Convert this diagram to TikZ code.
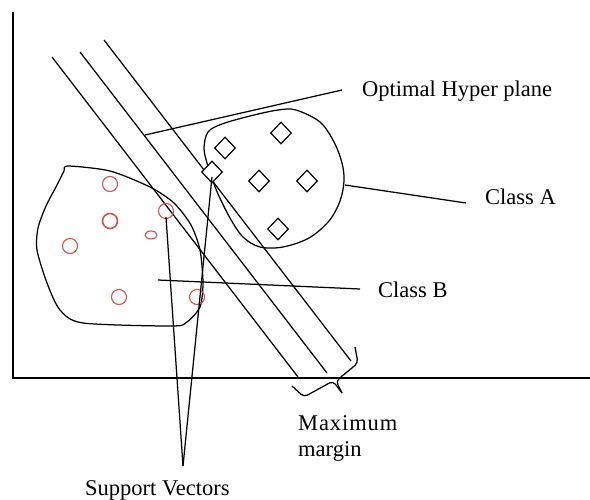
\documentclass[tikz,border=0pt]{standalone}
\usepackage{fontspec}
\setmainfont{Liberation Serif}
\usetikzlibrary{shapes.geometric}
\definecolor{svred}{RGB}{205,85,85}
\begin{document}
\begin{tikzpicture}[x=1pt,y=-1pt,
  ln/.style={line width=1.25pt},
  axisln/.style={line width=1.7pt},
  blob/.style={line width=1.25pt},
  redpt/.style={circle, draw=svred, line width=1.1pt, minimum size=15pt, inner sep=0pt},
  dia/.style={diamond, draw, line width=1.2pt, minimum width=21pt, minimum height=22pt, inner sep=0pt},
  lbl/.style={font=\fontsize{22.5}{26}\selectfont, inner sep=0pt, anchor=base west}]
\fill[white] (0,0) rectangle (590,499);
\useasboundingbox (0,0) rectangle (590,499);

% axes
\coordinate (o) at (13,378);
\coordinate (ytop) at (13,12);
\coordinate (xend) at (590,378);
\draw[axisln] (ytop) -- (o) -- (xend);

% hyperplanes
\coordinate (l1a) at (52,57);  \coordinate (l1b) at (298,377);
\coordinate (l2a) at (80,52);  \coordinate (l2b) at (327,373);
\coordinate (l3a) at (104,40); \coordinate (l3b) at (351,361);
\draw[ln] (l1a) -- (l1b);
\draw[ln] (l2a) -- (l2b);
\draw[ln] (l3a) -- (l3b);

% class A blob
\draw[blob] plot[smooth cycle, tension=0.55] coordinates {
 (207,163) (204,148) (208,132) (222,124) (250,116) (278,110) (296,110) (320,122)
 (334,142) (342,163) (344,181) (340,201) (329,221) (309,238) (283,247)
 (260,247) (243,237) (230,218) (218,194) (212,178)};

% class B blob
\draw[blob] plot[smooth cycle, tension=0.45] coordinates {
 (68,166) (110,171) (150,187) (174,203) (191,225) (200,250) (203,283)
 (200,307) (187,322) (172,326) (83,323) (60,310) (47,283) (37,250)
 (38,228) (46,206) (57,185) (64,171)};

% class A points
\node[dia] (a1) at (225,148) {};
\node[dia] (a2) at (281,133) {};
\node[dia] (a3) at (259,181) {};
\node[dia] (a4) at (307,181) {};
\node[dia] (a5) at (278,229) {};
\node[dia, fill=white] (sva) at (212,172) {};

% class B points
\node[redpt] (b1) at (110,184) {};
\node[redpt, line width=1.6pt] (b2) at (110,221) {};
\node[ellipse, draw=svred, line width=1.1pt, minimum width=12pt, minimum height=8pt, inner sep=0pt] (b3) at (151,235) {};
\node[redpt] (b4) at (70,246) {};
\node[redpt] (b5) at (119,297) {};
\node[redpt] (b6) at (197,297) {};
\node[redpt] (svb) at (166,211) {};

% support vectors callout
\coordinate (apex) at (183,466);
\draw[ln] (svb.center) ++(0,6) -- (apex);
\draw[ln] (sva.center) ++(0,5) -- (apex);
\node[lbl] (svt) at (85,495) {Support Vectors};

% optimal hyperplane label
\coordinate (h1) at (145,135);
\coordinate (h2) at (342,90);
\draw[ln] (h1) -- (h2);
\node[lbl] (opt) at (362,96) {Optimal Hyper plane};

% class A label
\coordinate (ca1) at (345,185);
\coordinate (ca2) at (466,203);
\draw[ln] (ca1) -- (ca2);
\node[lbl] (cat) at (485,204) {Class A};

% class B label
\coordinate (cb1) at (158,280);
\coordinate (cb2) at (360,289);
\draw[ln] (cb1) -- (cb2);
\node[lbl] (cbt) at (378,297) {Class B};

% maximum margin brace
\coordinate (br1) at (292,386);
\coordinate (br2) at (304,397);
\coordinate (br3) at (333,381);
\coordinate (brtip) at (342,393);
\coordinate (br4) at (358,363);
\coordinate (br5) at (355,347);
\draw[ln, rounded corners=4pt] (br1) -- (br2) -- (br3) -- (brtip);
\draw[ln, rounded corners=4pt] (brtip) -- (336,381) -- (br4) -- (br5);
\node[lbl] (mm1) at (298,430) {\addfontfeature{LetterSpace=4}Maximum};
\node[lbl] (mm2) at (298,456) {margin};
\end{tikzpicture}
\end{document}
